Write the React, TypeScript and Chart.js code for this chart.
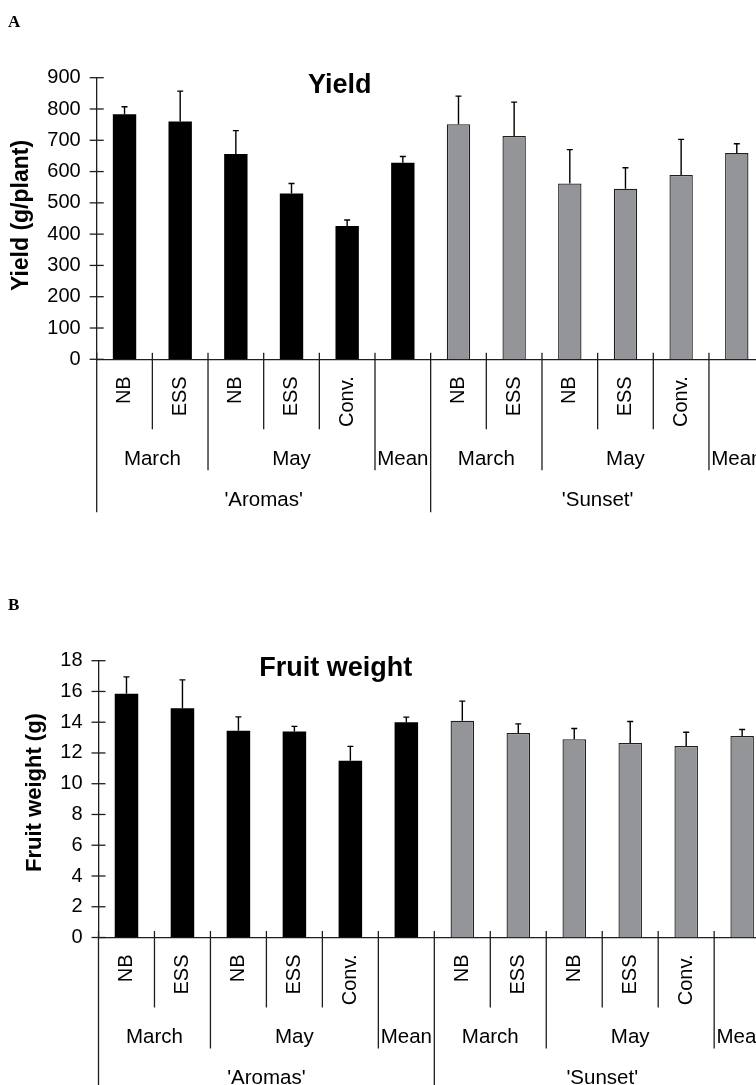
import React, { useEffect, useRef } from "react";
import { Chart, registerables } from "chart.js";

Chart.register(...registerables);

// ---------- data ----------
const treatmentLabels = ["NB", "ESS", "NB", "ESS", "Conv.", "", "NB", "ESS", "NB", "ESS", "Conv.", ""];
const monthLabels = ["March", "May", "Mean", "March", "May", "Mean"];
const monthSpans = [2, 3, 1, 2, 3, 1];
const cultivarLabels = ["'Aromas'", "'Sunset'"];
const cultivarSpans = [6, 6];

const yieldValues = [783, 760, 656, 530, 426, 628, 751, 714, 562, 545, 589, 659];
const yieldErrors = [24, 97, 75, 32, 19, 20, 90, 108, 108, 67, 114, 30];

const weightValues = [15.85, 14.9, 13.45, 13.4, 11.5, 14.0, 14.1, 13.3, 12.9, 12.65, 12.45, 13.1];
const weightErrors = [1.1, 1.85, 0.9, 0.33, 0.93, 0.33, 1.27, 0.59, 0.69, 1.4, 0.9, 0.43];

const FONT = "'Liberation Sans', Arial, Helvetica, sans-serif";
const SERIF = "'Liberation Serif', 'Times New Roman', serif";
const LINE = "#1e1e1e";

type Panel = {
  canvasTop: number;
  canvasH: number;
  W: number;
  left: number;
  right: number;
  areaTop: number;
  areaBottom: number;
  yMax: number;
  step: number;
  values: number[];
  errors: number[];
  title: string;
  titleX: number;
  titleBaseline: number;
  yTitle: string;
  yTitleX: number;
  yTitleY: number;
  yTitleSize: number;
  letter: string;
  letterBaseline: number;
};

const topPanel: Panel = {
  canvasTop: 0,
  canvasH: 545,
  W: 800,
  left: 96.7,
  right: 96.7 + 12 * 55.66,
  areaTop: 77.7,
  areaBottom: 359.3,
  yMax: 900,
  step: 100,
  values: yieldValues,
  errors: yieldErrors,
  title: "Yield",
  titleX: 339.7,
  titleBaseline: 92.7,
  yTitle: "Yield (g/plant)",
  yTitleX: 21.7,
  yTitleY: 215.5,
  yTitleSize: 23,
  letter: "A",
  letterBaseline: 26.5,
};

const bottomPanel: Panel = {
  canvasTop: 545,
  canvasH: 540,
  W: 800,
  left: 98.5,
  right: 98.5 + 12 * 55.97,
  areaTop: 660.7,
  areaBottom: 937.5,
  yMax: 18,
  step: 2,
  values: weightValues,
  errors: weightErrors,
  title: "Fruit weight",
  titleX: 335.8,
  titleBaseline: 676,
  yTitle: "Fruit weight (g)",
  yTitleX: 35,
  yTitleY: 792.5,
  yTitleSize: 22,
  letter: "B",
  letterBaseline: 610,
};

function boundaryKinds(n: number): string[] {
  const kinds: string[] = new Array(n + 1).fill("sub");
  let c = 0;
  monthSpans.forEach((s) => {
    kinds[c] = "month";
    c += s;
  });
  kinds[c] = "month";
  c = 0;
  cultivarSpans.forEach((s) => {
    kinds[c] = "big";
    c += s;
  });
  kinds[c] = "big";
  return kinds;
}

function makeChart(canvas: HTMLCanvasElement, p: Panel): Chart {
  const off = p.canvasTop;
  const n = treatmentLabels.length;
  const colors = p.values.map((_, i) => (i < 6 ? "#000000" : "#939598"));
  const borderColors = p.values.map((_, i) => (i < 6 ? "#000000" : LINE));
  const borderWidths = p.values.map((_, i) => (i < 6 ? 0 : 1.3));

  const plugin = {
    id: "panelDecor",
    afterDatasetsDraw(chart: any) {
      const ctx: CanvasRenderingContext2D = chart.ctx;
      const xs = chart.scales.x;
      const ys = chart.scales.y;
      const area = chart.chartArea;
      const meta = chart.getDatasetMeta(0);
      ctx.save();
      ctx.strokeStyle = "#000";
      ctx.lineWidth = 1.4;
      // error bars (upper only)
      meta.data.forEach((bar: any, i: number) => {
        const yTop = ys.getPixelForValue(p.values[i] + p.errors[i]);
        ctx.beginPath();
        ctx.moveTo(bar.x, bar.y);
        ctx.lineTo(bar.x, yTop);
        ctx.moveTo(bar.x - 3, yTop);
        ctx.lineTo(bar.x + 3, yTop);
        ctx.stroke();
      });
      // y ticks crossing the axis
      ctx.strokeStyle = LINE;
      ctx.lineWidth = 1.3;
      ys.ticks.forEach((t: any) => {
        const y = ys.getPixelForValue(t.value);
        ctx.beginPath();
        ctx.moveTo(area.left - 7, y);
        ctx.lineTo(area.left + 7, y);
        ctx.stroke();
      });
      // category boundaries
      const half = (xs.getPixelForValue(1) - xs.getPixelForValue(0)) / 2;
      const kinds = boundaryKinds(n);
      const lens: Record<string, number> = { sub: 70, month: 111, big: 153 };
      const axisY = area.bottom;
      for (let k = 0; k <= n; k++) {
        const x = k < n ? xs.getPixelForValue(k) - half : xs.getPixelForValue(n - 1) + half;
        ctx.beginPath();
        ctx.moveTo(x, axisY - 6.5);
        ctx.lineTo(x, axisY + lens[kinds[k]]);
        ctx.stroke();
      }
      // treatment labels (rotated)
      ctx.fillStyle = "#000";
      ctx.font = `20px ${FONT}`;
      treatmentLabels.forEach((lab, i) => {
        if (!lab) return;
        const x = xs.getPixelForValue(i);
        ctx.save();
        ctx.translate(x, axisY + 17);
        ctx.rotate(-Math.PI / 2);
        ctx.textAlign = "right";
        ctx.textBaseline = "middle";
        ctx.fillText(lab, 0, 0);
        ctx.restore();
      });
      // month labels
      ctx.font = `20.5px ${FONT}`;
      ctx.textAlign = "center";
      ctx.textBaseline = "alphabetic";
      let c = 0;
      monthLabels.forEach((lab, j) => {
        const s = monthSpans[j];
        const x = (xs.getPixelForValue(c) + xs.getPixelForValue(c + s - 1)) / 2;
        ctx.fillText(lab, x, axisY + 105.5);
        c += s;
      });
      // cultivar labels
      c = 0;
      cultivarLabels.forEach((lab, j) => {
        const s = cultivarSpans[j];
        const x = (xs.getPixelForValue(c) + xs.getPixelForValue(c + s - 1)) / 2;
        ctx.fillText(lab, x, axisY + 146.5);
        c += s;
      });
      // chart title
      ctx.font = `bold 27px ${FONT}`;
      ctx.fillText(p.title, p.titleX, p.titleBaseline - off);
      // y axis title
      ctx.save();
      ctx.translate(p.yTitleX, p.yTitleY - off);
      ctx.rotate(-Math.PI / 2);
      ctx.font = `bold ${p.yTitleSize}px ${FONT}`;
      ctx.textAlign = "center";
      ctx.textBaseline = "middle";
      ctx.fillText(p.yTitle, 0, 0);
      ctx.restore();
      // panel letter
      ctx.font = `bold 17px ${SERIF}`;
      ctx.textAlign = "left";
      ctx.textBaseline = "alphabetic";
      ctx.fillText(p.letter, 8, p.letterBaseline - off);
      ctx.restore();
    },
  };

  return new Chart(canvas, {
    type: "bar",
    data: {
      labels: treatmentLabels.map((l, i) => l || `Mean${i}`),
      datasets: [
        {
          data: p.values,
          backgroundColor: colors,
          borderColor: borderColors,
          borderWidth: borderWidths,
          barPercentage: 0.42,
          categoryPercentage: 1,
        },
      ],
    },
    options: {
      animation: false,
      responsive: false,
      maintainAspectRatio: false,
      layout: {
        padding: { left: 0, right: p.W - p.right, top: p.areaTop - off, bottom: 0 },
      },
      plugins: {
        legend: { display: false },
        tooltip: { enabled: false },
        title: { display: false },
      },
      scales: {
        x: {
          type: "category",
          offset: true,
          grid: { display: false, drawTicks: false },
          border: { display: true, color: LINE, width: 1.3 },
          ticks: { display: false },
          afterFit: (s: any) => {
            s.height = p.canvasH - (p.areaBottom - off);
          },
        },
        y: {
          min: 0,
          max: p.yMax,
          ticks: {
            stepSize: p.step,
            padding: 16,
            color: "#000",
            font: { family: FONT, size: 20 },
          },
          grid: { display: false, drawTicks: false },
          border: { display: true, color: LINE, width: 1.3 },
          afterFit: (s: any) => {
            s.width = p.left;
          },
        },
      },
    },
    plugins: [plugin],
  } as any);
}

export default function App() {
  const topRef = useRef<HTMLCanvasElement>(null);
  const botRef = useRef<HTMLCanvasElement>(null);

  useEffect(() => {
    const a = makeChart(topRef.current!, topPanel);
    const b = makeChart(botRef.current!, bottomPanel);
    return () => {
      a.destroy();
      b.destroy();
    };
  }, []);

  return (
    <div
      style={{
        position: "fixed",
        left: 0,
        top: 0,
        width: 756,
        height: 1085,
        overflow: "hidden",
        background: "#fff",
      }}
    >
      <canvas
        ref={topRef}
        width={topPanel.W}
        height={topPanel.canvasH}
        style={{ position: "absolute", left: 0, top: topPanel.canvasTop, width: topPanel.W, height: topPanel.canvasH }}
      />
      <canvas
        ref={botRef}
        width={bottomPanel.W}
        height={bottomPanel.canvasH}
        style={{ position: "absolute", left: 0, top: bottomPanel.canvasTop, width: bottomPanel.W, height: bottomPanel.canvasH }}
      />
    </div>
  );
}
